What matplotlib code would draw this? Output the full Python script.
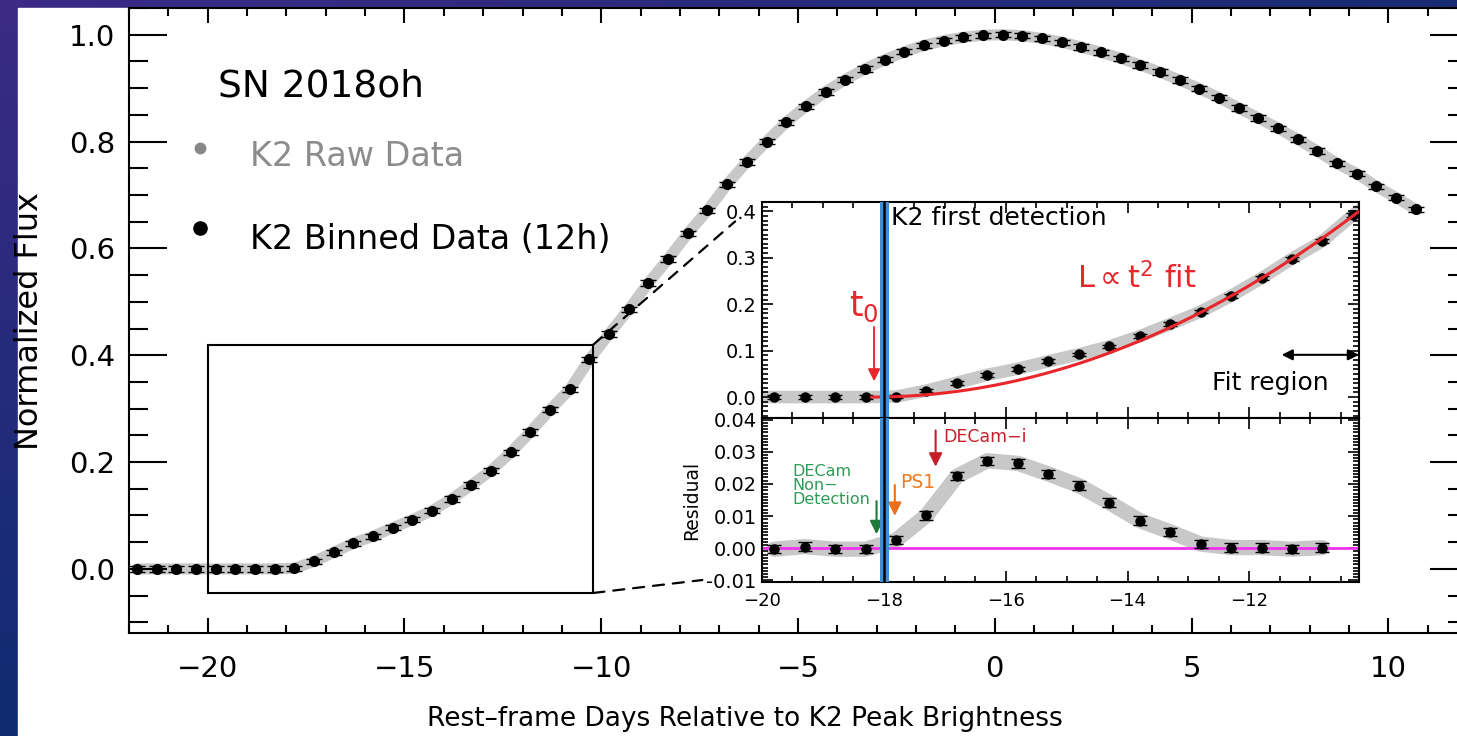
import numpy as np
import matplotlib.pyplot as plt
from matplotlib.patches import Rectangle, ConnectionPatch
from matplotlib.ticker import MultipleLocator, FormatStrFormatter
from matplotlib.colors import LinearSegmentedColormap

plt.rcParams['font.family'] = ['DejaVu Sans']
plt.rcParams['mathtext.fontset'] = 'dejavusans'

# K2 binned light curve (12h bins), rest-frame days vs normalized flux
days = [-21.8, -21.3, -20.8, -20.3, -19.8, -19.3, -18.8, -18.3, -17.8, -17.3,
        -16.8, -16.3, -15.8, -15.3, -14.8, -14.3, -13.8, -13.3, -12.8, -12.3,
        -11.8, -11.3, -10.8, -10.3, -9.8, -9.3, -8.8, -8.3, -7.8, -7.3,
        -6.8, -6.3, -5.8, -5.3, -4.8, -4.3, -3.8, -3.3, -2.8, -2.3,
        -1.8, -1.3, -0.8, -0.3, 0.2, 0.7, 1.2, 1.7, 2.2, 2.7,
        3.2, 3.7, 4.2, 4.7, 5.2, 5.7, 6.2, 6.7, 7.2, 7.7,
        8.2, 8.7, 9.2, 9.7, 10.2, 10.7]
flux = [0.0, 0.0, 0.0, 0.0, 0.0, 0.0, 0.0, 0.0, 0.001, 0.014,
        0.031, 0.048, 0.061, 0.077, 0.092, 0.109, 0.131, 0.157, 0.184, 0.218,
        0.256, 0.298, 0.336, 0.392, 0.440, 0.486, 0.535, 0.580, 0.628, 0.671,
        0.720, 0.762, 0.800, 0.836, 0.866, 0.893, 0.916, 0.936, 0.953, 0.968,
        0.980, 0.989, 0.995, 0.999, 1.000, 0.998, 0.993, 0.986, 0.977, 0.967,
        0.956, 0.943, 0.930, 0.915, 0.899, 0.882, 0.863, 0.844, 0.825, 0.804,
        0.782, 0.759, 0.740, 0.716, 0.695, 0.673]

# residuals from the t^2 fit (binned)
resid_days = [-19.8, -19.3, -18.8, -18.3, -17.8, -17.3, -16.8, -16.3, -15.8, -15.3,
              -14.8, -14.3, -13.8, -13.3, -12.8, -12.3, -11.8, -11.3, -10.8]
resid = [-0.0003, 0.0005, -0.0003, -0.0003, 0.0025, 0.0102, 0.0224, 0.0272, 0.0264, 0.0231,
         0.0195, 0.0142, 0.0086, 0.0051, 0.0013, 0.0002, 0.0002, -0.0003, 0.0002]

# fit parameters / markers
t0 = -18.2
fit_amp = 0.00625
fit_end = -10.2
first_det = -18.0
inset_xlim = (-20, -10.2)
inset_ylim = (-0.045, 0.42)
resid_ylim = (-0.0105, 0.0405)

W, H = 1457, 736
fig = plt.figure(figsize=(W / 100, H / 100), dpi=100)

# slide background: dark purple/blue gradient with white panel
bg = fig.add_axes([0, 0, 1, 1], zorder=-10)
gx, gy = np.meshgrid(np.linspace(0, 1, 64), np.linspace(0, 1, 64))
grad = gy * (1 - 0.8 * gx)
cmap = LinearSegmentedColormap.from_list('slide', ['#0f2c70', '#3b2a86'])
bg.imshow(grad, cmap=cmap, aspect='auto', extent=[0, 1, 0, 1], origin='lower')
bg.add_patch(Rectangle((18 / W, 0), 1, 1 - 8 / H, color='white', transform=bg.transAxes))
bg.set_xlim(0, 1)
bg.set_ylim(0, 1)
bg.axis('off')

# main panel
ax = fig.add_axes([129 / W, (H - 633) / H, (1467 - 129) / W, (633 - 8) / H])
ax.set_facecolor('white')
ax.plot(days, flux, color='#c8c8c8', lw=8, solid_capstyle='round', zorder=1)
ax.errorbar(days, flux, yerr=0.005, fmt='o', color='k', ms=7, capsize=6,
            elinewidth=1, capthick=1, zorder=3)
ax.set_xlim(-22, 12)
ax.set_ylim(-0.12, 1.05)
ax.xaxis.set_major_locator(MultipleLocator(5))
ax.xaxis.set_minor_locator(MultipleLocator(1))
ax.yaxis.set_major_locator(MultipleLocator(0.2))
ax.yaxis.set_minor_locator(MultipleLocator(0.05))
ax.yaxis.set_major_formatter(FormatStrFormatter('%.1f'))
ax.tick_params(which='both', direction='in', top=True, right=True, width=1.5)
ax.tick_params(axis='y', which='major', length=27, pad=10, labelsize=21)
ax.tick_params(axis='y', which='minor', length=14)
ax.tick_params(axis='x', which='major', length=11, pad=16, labelsize=21)
ax.tick_params(axis='x', which='minor', length=6)
for sp in ax.spines.values():
    sp.set_linewidth(1.5)
ax.set_ylabel('Normalized Flux', fontsize=23)
ax.yaxis.set_label_coords(-0.063, 0.5)
ax.set_xlabel('Rest\u2013frame Days Relative to K2 Peak Brightness', fontsize=19)
ax.xaxis.set_label_coords(0.46, -0.117)

# legend-ish labels
ax.text(0.0665, 0.875, 'SN 2018oh', transform=ax.transAxes, fontsize=27, va='center')
ax.plot([0.053], [0.776], 'o', color='#888888', ms=7.5, transform=ax.transAxes)
ax.text(0.0904, 0.762, 'K2 Raw Data', transform=ax.transAxes, fontsize=24,
        va='center', color='#8c8c8c')
ax.plot([0.053], [0.648], 'o', color='k', ms=9.5, transform=ax.transAxes)
ax.text(0.0904, 0.629, 'K2 Binned Data (12h)', transform=ax.transAxes, fontsize=24,
        va='center', color='k')

# zoom box
ax.add_patch(Rectangle((inset_xlim[0], inset_ylim[0]), inset_xlim[1] - inset_xlim[0],
                       inset_ylim[1] - inset_ylim[0], fill=False, lw=1.5, ec='k', zorder=4))

# inset: top panel
axi = fig.add_axes([762 / W, 1 - 418 / H, 597 / W, 216 / H])
axr = fig.add_axes([762 / W, 1 - 582 / H, 597 / W, 164 / H])

axi.plot(days, flux, color='#c8c8c8', lw=9, solid_capstyle='round', zorder=1)
axi.errorbar(days, flux, yerr=0.004, fmt='o', color='k', ms=6.5, capsize=5,
             elinewidth=1, capthick=1, zorder=3)
tt = np.linspace(t0, fit_end, 200)
axi.plot(tt, fit_amp * (tt - t0) ** 2, color='#e8262b', lw=2.2, zorder=4)
axi.axvline(first_det, color='#3a8fd8', lw=6.5, zorder=5)
axi.axvline(first_det, color='k', lw=1.8, zorder=6)
axi.set_xlim(*inset_xlim)
axi.set_ylim(*inset_ylim)
axi.text(first_det + 0.12, 0.385, 'K2 first detection', fontsize=18, va='center', ha='left')
axi.text(-18.33, 0.195, r'$\mathrm{t}_0$', fontsize=25, color='#e8262b', ha='center',
         va='center')
axi.annotate('', xy=(-18.16, 0.028), xytext=(-18.16, 0.157),
             arrowprops=dict(arrowstyle='-|>', color='#e8262b', lw=1.4, mutation_scale=18))
axi.text(-13.85, 0.255, r'L$\propto$t$^2$ fit', fontsize=22, color='#e8262b', ha='center',
         va='center')
axi.annotate('', xy=(fit_end, 0.091), xytext=(-11.47, 0.091),
             arrowprops=dict(arrowstyle='<|-|>', color='k', lw=1.5, mutation_scale=16,
                             shrinkA=0, shrinkB=0))
axi.text(-11.65, 0.03, 'Fit region', fontsize=18, ha='center', va='center')

# inset: residual panel
axr.plot(resid_days, resid, color='#c8c8c8', lw=11, solid_capstyle='round', zorder=1)
axr.axhline(0, color='#ee33ee', lw=2, zorder=2)
axr.errorbar(resid_days, resid, yerr=0.0013, fmt='o', color='k', ms=6.5, capsize=5,
             elinewidth=1, capthick=1, zorder=3)
axr.axvline(first_det, color='#3a8fd8', lw=6.5, zorder=5)
axr.axvline(first_det, color='k', lw=1.8, zorder=6)
axr.set_xlim(*inset_xlim)
axr.set_ylim(*resid_ylim)
axr.set_ylabel('Residual', fontsize=13.5)
axr.text(-19.5, 0.0195, 'DECam\nNon\u2212\nDetection', fontsize=11.5, color='#2f9a55',
         ha='left', va='center', linespacing=0.95)
axr.annotate('', xy=(-18.12, 0.0035), xytext=(-18.12, 0.0155),
             arrowprops=dict(arrowstyle='-|>', color='#1f7a3a', lw=1.5, mutation_scale=20))
axr.text(-17.45, 0.0205, 'PS1', fontsize=13.5, color='#f07a1e', ha='center', va='center')
axr.annotate('', xy=(-17.82, 0.0092), xytext=(-17.82, 0.0205),
             arrowprops=dict(arrowstyle='-|>', color='#e8701a', lw=1.5, mutation_scale=20))
axr.text(-17.03, 0.0345, 'DECam\u2212i', fontsize=12.5, color='#c8202a', ha='left', va='center')
axr.annotate('', xy=(-17.15, 0.0245), xytext=(-17.15, 0.0375),
             arrowprops=dict(arrowstyle='-|>', color='#c41e28', lw=1.5, mutation_scale=20))

for a in (axi, axr):
    a.set_facecolor('white')
    a.xaxis.set_major_locator(MultipleLocator(2))
    a.xaxis.set_minor_locator(MultipleLocator(0.5))
    a.tick_params(which='both', direction='in', top=True, right=True, width=1.2)
    a.tick_params(which='major', length=8, pad=4)
    a.tick_params(which='minor', length=4)
    for sp in a.spines.values():
        sp.set_linewidth(1.5)
axi.yaxis.set_major_locator(MultipleLocator(0.1))
axi.yaxis.set_minor_locator(MultipleLocator(0.01))
axi.yaxis.set_major_formatter(FormatStrFormatter('%.1f'))
axi.tick_params(axis='x', labelbottom=False)
axi.tick_params(axis='y', labelsize=14)
axr.yaxis.set_major_locator(MultipleLocator(0.01))
axr.yaxis.set_minor_locator(MultipleLocator(0.001))
axr.yaxis.set_major_formatter(FormatStrFormatter('%.2f'))
axr.tick_params(axis='y', labelsize=14)
axr.tick_params(axis='x', labelsize=13, pad=7)

# dashed connectors from the zoom box to the inset
con1 = ConnectionPatch(xyA=(inset_xlim[1], inset_ylim[1]), coordsA=ax.transData,
                       xyB=(-0.045, 0.91), coordsB=axi.transAxes,
                       linestyle=(0, (5, 4)), lw=1.6, color='k')
con2 = ConnectionPatch(xyA=(inset_xlim[1], inset_ylim[0]), coordsA=ax.transData,
                       xyB=(-0.1, 0.012), coordsB=axr.transAxes,
                       linestyle=(0, (5, 4)), lw=1.6, color='k')
fig.add_artist(con1)
fig.add_artist(con2)

fig.savefig('out.png', dpi=100)
